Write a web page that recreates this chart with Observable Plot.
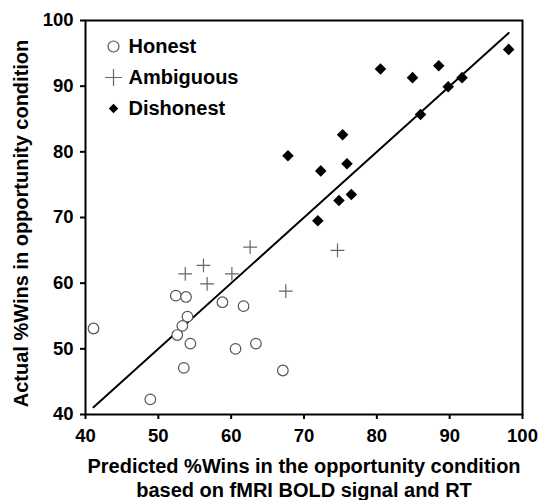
<!DOCTYPE html>
<html>
<head>
<meta charset="utf-8">
<script src="https://cdn.jsdelivr.net/npm/d3@7"></script>
<script src="https://cdn.jsdelivr.net/npm/@observablehq/plot@0.6"></script>
<style>
  html, body { margin: 0; padding: 0; background: #fff; }
</style>
</head>
<body>
<div id="chart"></div>
<script>
// ---- Data ----
const categories = ["Honest", "Ambiguous", "Dishonest"];

const honestPredicted = [41.1, 48.9, 52.4, 53.8, 54.0, 53.3, 52.6, 54.4, 53.5, 58.8, 61.7, 60.6, 63.4, 67.1];
const honestActual    = [53.1, 42.3, 58.1, 57.9, 54.9, 53.5, 52.1, 50.8, 47.1, 57.1, 56.5, 50.0, 50.8, 46.7];

const ambiguousPredicted = [53.7, 56.2, 56.7, 60.1, 62.6, 67.5, 74.6];
const ambiguousActual    = [61.4, 62.7, 59.9, 61.4, 65.5, 58.8, 65.0];

const dishonestPredicted = [67.8, 72.3, 71.9, 74.8, 75.3, 75.9, 76.5, 80.5, 84.9, 86.0, 88.5, 89.8, 91.7, 98.1];
const dishonestActual    = [79.4, 77.1, 69.5, 72.6, 82.6, 78.2, 73.5, 92.6, 91.3, 85.7, 93.1, 89.9, 91.3, 95.6];

const xTicks = [40, 50, 60, 70, 80, 90, 100];
const yTicks = [40, 50, 60, 70, 80, 90, 100];

const xLabel = "Predicted %Wins in the opportunity condition\nbased on fMRI BOLD signal and RT";
const yLabel = "Actual %Wins in opportunity condition";

// ---- Build table ----
const toRows = (group, xs, ys) => xs.map((x, i) => ({group, predicted: x, actual: ys[i]}));
const data = [
  ...toRows("Honest", honestPredicted, honestActual),
  ...toRows("Ambiguous", ambiguousPredicted, ambiguousActual),
  ...toRows("Dishonest", dishonestPredicted, dishonestActual)
];

// identity fit line across the range of predicted values
const ext = d3.extent(data, d => d.predicted);
const fitLine = ext.map(v => ({predicted: v, actual: v}));

const symbolOf = {Honest: "circle", Ambiguous: "plus", Dishonest: "diamond2"};
const fillOf = {Honest: "none", Ambiguous: "none", Dishonest: "black"};
const strokeOf = {Honest: "#555", Ambiguous: "#666", Dishonest: "none"};

const font = "'Liberation Sans', Arial, Helvetica, sans-serif";

const legendMarks = categories.flatMap((c, i) => [
  Plot.dot([c], {
    frameAnchor: "top-left", dx: 28, dy: 26 + i * 31,
    r: c === "Dishonest" ? 4.3 : 5.5,
    symbol: () => symbolOf[c], fill: fillOf[c], stroke: strokeOf[c], strokeWidth: 1.2
  }),
  Plot.text([c], {
    frameAnchor: "top-left", dx: 43, dy: 26 + i * 31,
    text: d => d, textAnchor: "start", lineAnchor: "middle",
    fontSize: 20, fontWeight: "bold", fill: "black"
  })
]);

const chart = Plot.plot({
  width: 540,
  height: 500,
  marginLeft: 85,
  marginRight: 18,
  marginTop: 20,
  marginBottom: 86,
  style: {fontFamily: font, fontWeight: "bold", color: "black", background: "white"},
  x: {domain: [40, 100]},
  y: {domain: [40, 100]},
  marks: [
    Plot.frame({stroke: "black", strokeWidth: 2}),
    Plot.axisX({ticks: xTicks, tickSize: 5, tickPadding: 9, fontSize: 18.5, fontWeight: "bold", strokeWidth: 2, label: null}),
    Plot.axisY({ticks: yTicks, tickSize: 5, tickPadding: 7, fontSize: 18.5, fontWeight: "bold", strokeWidth: 2, label: null}),
    Plot.line(fitLine, {x: "predicted", y: "actual", stroke: "black", strokeWidth: 2}),
    Plot.dot(data.filter(d => d.group === "Honest"), {
      x: "predicted", y: "actual", r: 5.3, symbol: "circle", fill: "white", stroke: "#555", strokeWidth: 1.2
    }),
    Plot.dot(data.filter(d => d.group === "Ambiguous"), {
      x: "predicted", y: "actual", r: 4.5, symbol: "plus", stroke: "#666", strokeWidth: 1.2
    }),
    Plot.dot(data.filter(d => d.group === "Dishonest"), {
      x: "predicted", y: "actual", r: 5.2, symbol: "diamond2", fill: "black", stroke: "none"
    }),
    ...legendMarks,
    Plot.text([xLabel], {
      frameAnchor: "bottom", dy: 63, text: d => d, lineAnchor: "middle", lineHeight: 1.2,
      fontSize: 20, fontWeight: "bold", fill: "black"
    }),
    Plot.text([yLabel], {
      frameAnchor: "left", dx: -64, dy: 6, rotate: -90, text: d => d,
      textAnchor: "middle", lineAnchor: "middle",
      fontSize: 20, fontWeight: "bold", fill: "black"
    })
  ]
});

document.getElementById("chart").appendChild(chart);
</script>
</body>
</html>
